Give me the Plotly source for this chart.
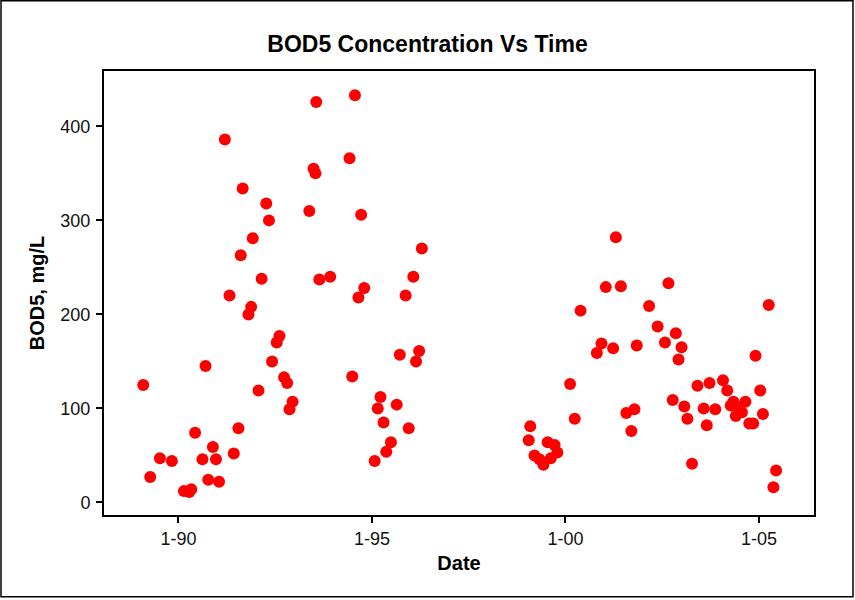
import pandas as pd
import plotly.graph_objects as go

# decimal year of each sample
years = [
    1989.09, 1989.27, 1989.52, 1989.83, 1990.14, 1990.28, 1990.33, 1990.43, 1990.62, 1990.70,
    1990.77, 1990.89, 1990.97, 1991.05, 1991.20, 1991.32, 1991.43, 1991.55, 1991.61, 1991.66,
    1991.81, 1991.88, 1991.92, 1992.07, 1992.15, 1992.27, 1992.34, 1992.42, 1992.54, 1992.61,
    1992.73, 1992.81, 1992.87, 1992.95, 1993.38, 1993.49, 1993.54, 1993.56, 1993.64, 1993.92,
    1994.42, 1994.49, 1994.56, 1994.65, 1994.72, 1994.80, 1995.07, 1995.15, 1995.22, 1995.30,
    1995.37, 1995.49, 1995.64, 1995.72, 1995.87, 1995.95, 1996.07, 1996.14, 1996.22, 1996.29,
    1999.05, 1999.09, 1999.20, 1999.33, 1999.43, 1999.54, 1999.62, 1999.72, 1999.79, 2000.12,
    2000.24, 2000.39, 2000.81, 2000.93, 2001.04, 2001.23, 2001.30, 2001.43, 2001.57, 2001.70,
    2001.78, 2001.84, 2002.16, 2002.38, 2002.57, 2002.66, 2002.77, 2002.85, 2002.92, 2003.00,
    2003.07, 2003.15, 2003.27, 2003.41, 2003.57, 2003.65, 2003.72, 2003.87, 2004.07, 2004.18,
    2004.27, 2004.34, 2004.40, 2004.48, 2004.56, 2004.65, 2004.75, 2004.85, 2004.91, 2005.03,
    2005.10, 2005.25, 2005.37, 2005.44,
]
bod5 = [
    125, 27, 47, 44, 12, 11, 14, 74, 46, 145,
    24, 59, 46, 22, 386, 220, 52, 79, 263, 334,
    200, 208, 281, 119, 238, 318, 300, 150, 170, 177,
    133, 127, 99, 107, 310, 355, 350, 426, 237, 240,
    366, 134, 433, 218, 306, 228, 44, 100, 112, 85,
    54, 64, 104, 157, 220, 79, 240, 150, 161, 270,
    66, 81, 50, 46, 40, 64, 47, 61, 53, 126,
    89, 204, 159, 169, 229, 164, 282, 230, 95, 76,
    99, 167, 209, 187, 170, 233, 109, 180, 152, 165,
    102, 89, 41, 124, 100, 82, 127, 99, 130, 119,
    103, 107, 92, 101, 96, 107, 84, 84, 156, 119,
    94, 210, 16, 34,
]

x_tick_vals = ["1990-01-01", "1995-01-01", "2000-01-01", "2005-01-01"]
x_tick_text = ["1-90", "1-95", "1-00", "1-05"]
y_tick_vals = [0, 100, 200, 300, 400]


def to_date(y):
    yr = int(y)
    return pd.Timestamp(year=yr, month=1, day=1) + pd.Timedelta(days=(y - yr) * 365.25)


dates = [to_date(y) for y in years]

fig = go.Figure()
fig.add_trace(go.Scatter(
    x=dates, y=bod5, mode="markers",
    marker=dict(color="#FF0000", size=12, line=dict(width=0)),
    showlegend=False,
))

FONT = "Liberation Sans, Arial, sans-serif"

fig.update_layout(
    width=855, height=600,
    margin=dict(l=104, r=41, t=71, b=85),
    paper_bgcolor="white", plot_bgcolor="white",
    font=dict(family=FONT, color="black", size=18),
    title=dict(text="<b>BOD5 Concentration Vs Time</b>", x=0.5, xanchor="center",
               y=0.927, yanchor="middle", font=dict(size=23, family=FONT)),
    xaxis=dict(
        type="date",
        range=[to_date(1988.078), to_date(2006.42)],
        tickvals=x_tick_vals, ticktext=x_tick_text,
        ticks="outside", ticklen=6, tickwidth=1.5, tickcolor="black",
        showline=True, linecolor="black", linewidth=2, mirror=True,
        showgrid=False, zeroline=False,
        tickfont=dict(size=18, color="#111111"),
        title=dict(text="<b>Date</b>", font=dict(size=20), standoff=8),
    ),
    yaxis=dict(
        range=[-13.4, 458.9],
        tickvals=y_tick_vals,
        ticks="outside", ticklen=6, tickwidth=1.5, tickcolor="black",
        ticklabelstandoff=2,
        showline=True, linecolor="black", linewidth=2, mirror=True,
        showgrid=False, zeroline=False,
        tickfont=dict(size=18, color="#111111"),
        title=dict(text="<b>BOD5, mg/L</b>", font=dict(size=20), standoff=10),
    ),
    shapes=[dict(type="rect", xref="paper", yref="paper",
                 x0=(1 - 104) / 710, x1=(853 - 104) / 710,
                 y0=(515.3 - 597) / 444, y1=(515.3 - 1) / 444,
                 line=dict(color="black", width=1.5), layer="below")],
)

fig.write_html("out.html")
